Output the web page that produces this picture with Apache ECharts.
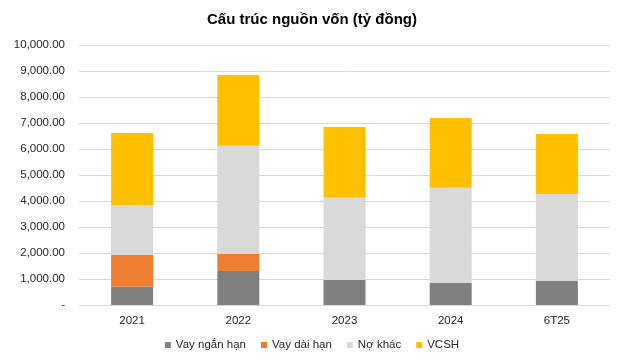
<!DOCTYPE html>
<html><head><meta charset="utf-8">
<script src="https://cdn.jsdelivr.net/npm/echarts@6/dist/echarts.min.js"></script>
<style>html,body{margin:0;padding:0;background:#fff}#c{width:624px;height:364px}</style>
</head><body><div id="c"></div>
<script>
const categories = ['2021','2022','2023','2024','6T25'];
const vayNganHan = [704, 1308, 962, 846, 923];
const vayDaiHan = [1219, 654, 0, 0, 0];
const noKhac = [1923, 4165, 3165, 3667, 3346];
const vcsh = [2769, 2719, 2719, 2679, 2308];
const seriesNames = ['Vay ngắn hạn','Vay dài hạn','Nợ khác','VCSH'];
const colors = ['#808080','#ED7D31','#D9D9D9','#FFC000'];
const chart = echarts.init(document.getElementById('c'));
const font = '"Liberation Sans", Arial, sans-serif';
const dataSets = [vayNganHan, vayDaiHan, noKhac, vcsh];
chart.setOption({
  animation:false,
  textStyle:{fontFamily:font},
  title:{text:'Cấu trúc nguồn vốn (tỷ đồng)',left:'center',top:7,
    textStyle:{fontFamily:font,fontSize:15,fontWeight:'bold',color:'#000'}},
  grid:{left:79,right:14,top:45,bottom:59},
  legend:{bottom:8,left:'center',icon:'rect',itemWidth:6,itemHeight:6,itemGap:15,
    textStyle:{fontFamily:font,fontSize:11.5,color:'#262626'},data:seriesNames},
  xAxis:{type:'category',data:categories,
    axisLine:{show:false},axisTick:{show:false},
    axisLabel:{fontFamily:font,fontSize:11.5,color:'#262626',margin:10}},
  yAxis:{type:'value',min:0,max:10000,interval:1000,
    axisLine:{show:false},axisTick:{show:false},
    splitLine:{lineStyle:{color:'#D9D9D9',width:1}},
    axisLabel:{fontFamily:font,fontSize:11.5,color:'#262626',margin:14,
      formatter:v=> v===0 ? '-' : v.toLocaleString('en-US',{minimumFractionDigits:2,maximumFractionDigits:2})}},
  series: dataSets.map((d,i)=>({name:seriesNames[i],type:'bar',stack:'a',barWidth:42,
    itemStyle:{color:colors[i]},data:d}))
});
</script></body></html>
